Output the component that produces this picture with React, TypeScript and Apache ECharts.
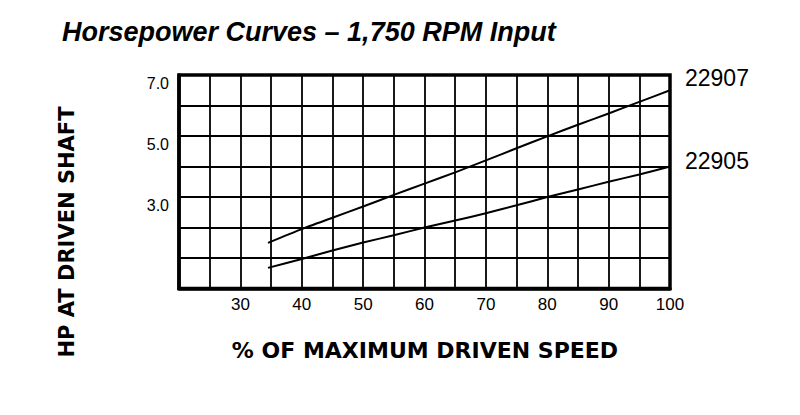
import React, { useEffect, useRef } from "react";
import * as echarts from "echarts";

const titleText = "Horsepower Curves \u2013 1,750 RPM Input";
const xAxisTitle = "% OF MAXIMUM DRIVEN SPEED";
const yAxisTitle = "HP AT DRIVEN SHAFT";

const speedPct = [34.5, 40, 45, 50, 55, 60, 65, 70, 75, 80, 85, 90, 95, 100];
const hp22907 = [1.5, 1.95, 2.32, 2.69, 3.07, 3.44, 3.81, 4.2, 4.6, 4.99, 5.37, 5.74, 6.12, 6.5];
const hp22905 = [0.68, 0.97, 1.25, 1.51, 1.75, 2.0, 2.23, 2.47, 2.73, 3.0, 3.25, 3.5, 3.74, 4.0];

const seriesNames = ["22907", "22905"];
const xTickLabels = [30, 40, 50, 60, 70, 80, 90, 100];
const yTickLabels = [3, 5, 7];

export default function App() {
  const ref = useRef<HTMLDivElement>(null);

  useEffect(() => {
    if (!ref.current) return;
    const chart = echarts.init(ref.current, null, { renderer: "svg" });
    const black = "#000";
    const sans = "'Liberation Sans', Arial, Helvetica, sans-serif";
    const mk = (ys: number[]) => speedPct.map((x, i) => [x, ys[i]]);
    const endOffsets = [[15, -12], [15, -6]];

    chart.setOption({
      animation: false,
      backgroundColor: "#fff",
      title: {
        text: titleText,
        left: 62,
        top: 18,
        padding: 0,
        textStyle: {
          fontFamily: sans,
          fontSize: 27,
          fontWeight: "bold",
          fontStyle: "italic",
          color: black,
        },
      },
      grid: {
        left: 179,
        top: 75,
        width: 491,
        height: 213.6,
        show: true,
        borderColor: black,
        borderWidth: 3.5,
        backgroundColor: "transparent",
      },
      xAxis: {
        type: "value",
        min: 20,
        max: 100,
        interval: 5,
        axisLine: { show: true, lineStyle: { color: black, width: 3.5 } },
        axisTick: { show: false },
        splitLine: { show: true, lineStyle: { color: black, width: 1.8 } },
        axisLabel: {
          margin: 7,
          color: black,
          fontSize: 17,
          fontFamily: sans,
          formatter: (v: number) => (xTickLabels.includes(v) ? String(v) : ""),
        },
      },
      yAxis: {
        type: "value",
        min: 0,
        max: 7,
        interval: 1,
        axisLine: { show: true, lineStyle: { color: black, width: 3.5 } },
        axisTick: { show: false },
        splitLine: { show: true, lineStyle: { color: black, width: 1.8 } },
        axisLabel: {
          margin: 10,
          color: black,
          fontSize: 16,
          fontFamily: sans,
          verticalAlign: "top",
          formatter: (v: number) => (yTickLabels.includes(v) ? v.toFixed(1) : ""),
        },
      },
      graphic: [
        {
          type: "text",
          x: 425,
          y: 350,
          style: {
            text: xAxisTitle,
            fill: black,
            font: "bold 22px 'DejaVu Sans', sans-serif",
            textAlign: "center",
            textVerticalAlign: "middle",
          },
        },
        {
          type: "text",
          x: 67,
          y: 232,
          rotation: Math.PI / 2,
          style: {
            text: yAxisTitle,
            fill: black,
            font: "bold 21px 'DejaVu Sans', sans-serif",
            textAlign: "center",
            textVerticalAlign: "middle",
          },
        },
      ],
      series: [hp22907, hp22905].map((ys, i) => ({
        name: seriesNames[i],
        type: "line",
        data: mk(ys),
        showSymbol: false,
        smooth: 0.2,
        lineStyle: { color: black, width: 2 },
        endLabel: {
          show: true,
          formatter: "{a}",
          distance: 0,
          offset: endOffsets[i],
          color: black,
          fontSize: 23,
          fontFamily: sans,
        },
        z: 5,
      })),
    });
    return () => chart.dispose();
  }, []);

  return (
    <div
      ref={ref}
      style={{ position: "absolute", left: 0, top: 0, width: 800, height: 415 }}
    />
  );
}
